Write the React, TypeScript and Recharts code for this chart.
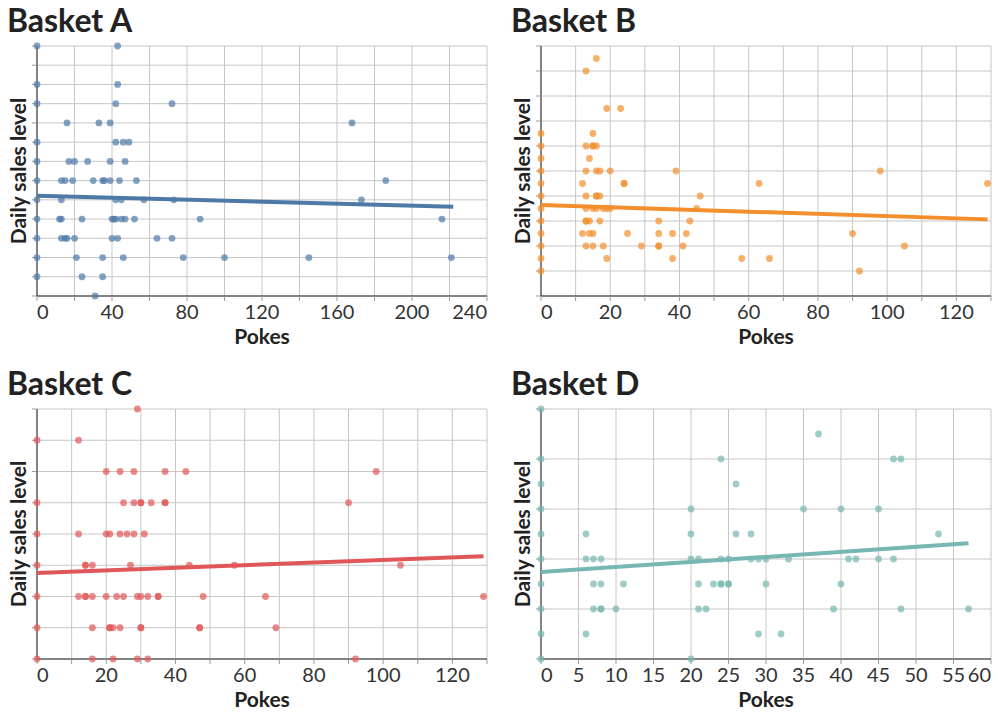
import React from 'react';
import { ScatterChart, Scatter, XAxis, YAxis, CartesianGrid } from 'recharts';

type Pt = { pokes: number; level: number };

// one row of dots per sales level
const row = (level: number, pokes: number[]): Pt[] => pokes.map((p) => ({ pokes: p, level }));

const basketA: Pt[] = [
  ...row(13, [0, 43]),
  ...row(11, [0, 43]),
  ...row(10, [0, 42, 72]),
  ...row(9, [16, 33, 39, 168]),
  ...row(8, [0, 42, 46, 49]),
  ...row(7, [0, 17, 20, 27, 39, 47]),
  ...row(6, [0, 13, 15, 19, 30, 35, 36, 39, 44, 53, 186]),
  ...row(5, [0, 13, 42, 45, 57, 73, 173]),
  ...row(4, [0, 12, 13, 24, 40, 41, 42, 45, 47, 52, 87, 216]),
  ...row(3, [0, 13, 15, 16, 20, 40, 43, 64, 72]),
  ...row(2, [0, 21, 35, 46, 78, 100, 145, 221]),
  ...row(1, [0, 24, 35]),
  ...row(0, [31]),
];

const basketB: Pt[] = [
  ...row(19, [16]),
  ...row(18, [13]),
  ...row(15, [19, 23]),
  ...row(13, [0, 15]),
  ...row(12, [0, 13, 15, 15, 16]),
  ...row(11, [0, 14]),
  ...row(10, [0, 13, 16, 17, 20, 39, 98]),
  ...row(9, [0, 12, 24, 24, 63, 129]),
  ...row(8, [0, 13, 16, 16, 17, 46]),
  ...row(7, [0, 13, 15, 16, 18, 19, 20, 45]),
  ...row(6, [0, 13, 13, 14, 17, 34, 43]),
  ...row(5, [0, 12, 14, 15, 25, 34, 38, 42, 90]),
  ...row(4, [0, 13, 15, 18, 29, 34, 34, 41, 105]),
  ...row(3, [0, 19, 38, 58, 66]),
  ...row(2, [0, 92]),
];

const basketC: Pt[] = [
  ...row(8, [29]),
  ...row(7, [0, 12]),
  ...row(6, [20, 24, 28, 37, 43, 98]),
  ...row(5, [0, 25, 28, 30, 30, 33, 37, 37, 90]),
  ...row(4, [0, 12, 20, 21, 24, 26, 28, 31]),
  ...row(3, [0, 14, 14, 16, 27, 44, 57, 105]),
  ...row(2, [0, 12, 14, 14, 16, 20, 23, 25, 29, 30, 32, 35, 35, 48, 66, 129]),
  ...row(1, [0, 16, 21, 21, 22, 24, 30, 30, 47, 47, 69]),
  ...row(0, [0, 16, 22, 29, 32, 92]),
];

const basketD: Pt[] = [
  ...row(10, [0]),
  ...row(9, [37]),
  ...row(8, [0, 24, 47, 48]),
  ...row(7, [0, 26]),
  ...row(6, [0, 20, 35, 40, 45]),
  ...row(5, [0, 6, 20, 26, 28, 53]),
  ...row(4, [0, 6, 7, 8, 20, 21, 24, 25, 28, 29, 30, 33, 41, 42, 45, 47]),
  ...row(3, [0, 7, 8, 11, 21, 23, 24, 24, 25, 25, 30, 40]),
  ...row(2, [0, 7, 8, 8, 10, 21, 22, 39, 48, 57]),
  ...row(1, [0, 6, 29, 32]),
  ...row(0, [0, 20]),
];

// fitted lines at both ends
const trendA: Pt[] = [{ pokes: 0, level: 5.21 }, { pokes: 222, level: 4.64 }];
const trendB: Pt[] = [{ pokes: 0, level: 7.28 }, { pokes: 129, level: 6.13 }];
const trendC: Pt[] = [{ pokes: 0, level: 2.75 }, { pokes: 129, level: 3.29 }];
const trendD: Pt[] = [{ pokes: 0, level: 3.48 }, { pokes: 57, level: 4.63 }];

const xTicksA = [0, 20, 40, 60, 80, 100, 120, 140, 160, 180, 200, 220, 240];
const xTicksBC = [0, 10, 20, 30, 40, 50, 60, 70, 80, 90, 100, 110, 120, 130];
const xTicksD = [0, 5, 10, 15, 20, 25, 30, 35, 40, 45, 50, 55, 60];

const yTicksA = [0, 1, 2, 3, 4, 5, 6, 7, 8, 9, 10, 11, 12, 13];
const yTicksB = [0, 2, 4, 6, 8, 10, 12, 14, 16, 18, 20];
const yTicksC = [0, 1, 2, 3, 4, 5, 6, 7, 8];
const yTicksD = [0, 2, 4, 6, 8, 10];

const FONT = 'Lato, "DejaVu Sans", sans-serif';
const INK = '#222';

const makeXTick = (ticks: number[], labelEvery: number) => (props: any) => {
  const { x, y, payload } = props;
  const v = payload.value;
  if (v % labelEvery !== 0) return <g />;
  const anchor = v === ticks[0] ? 'start' : v === ticks[ticks.length - 1] ? 'end' : 'middle';
  return (
    <text x={x} y={y} dy={16} textAnchor={anchor} fontSize={20} fill="#333" fontFamily={FONT}>
      {v}
    </text>
  );
};

// y axis shows tick marks only, no numbers
const noLabel = () => <g />;

type PanelProps = {
  title: string;
  left: number;
  top: number;
  data: Pt[];
  trend: Pt[];
  color: string;
  xTicks: number[];
  labelEvery: number;
  yTicks: number[];
};

function Panel({ title, left, top, data, trend, color, xTicks, labelEvery, yTicks }: PanelProps) {
  const dot = (p: any) => <circle cx={p.cx} cy={p.cy} r={3.4} fill={color} fillOpacity={0.7} />;
  return (
    <div style={{ position: 'absolute', left, top, width: 499, height: 360 }}>
      <ScatterChart
        width={499}
        height={360}
        margin={{ top: 46, right: 12, bottom: 0, left: 0 }}
        style={{ fontFamily: FONT }}
      >
        <CartesianGrid stroke="#c6c6c6" strokeWidth={1} />
        <XAxis
          type="number"
          dataKey="pokes"
          domain={[xTicks[0], xTicks[xTicks.length - 1]]}
          ticks={xTicks}
          interval={0}
          height={64}
          stroke={INK}
          tickLine={{ stroke: '#999' }}
          tickSize={5}
          tick={makeXTick(xTicks, labelEvery)}
          label={{ value: 'Pokes', position: 'insideBottom', offset: 16, fontSize: 21, fontWeight: 700, fill: INK }}
        />
        <YAxis
          type="number"
          dataKey="level"
          domain={[yTicks[0], yTicks[yTicks.length - 1]]}
          ticks={yTicks}
          interval={0}
          width={37}
          stroke={INK}
          tickLine={{ stroke: '#999' }}
          tickSize={5}
          tick={noLabel}
          label={{ value: 'Daily sales level', angle: -90, position: 'center', fontSize: 21, fontWeight: 700, fill: INK }}
        />
        <Scatter data={data} fill={color} shape={dot} isAnimationActive={false} />
        <Scatter
          data={trend}
          fill={color}
          line={{ stroke: color, strokeWidth: 4 }}
          shape={() => <g />}
          isAnimationActive={false}
        />
      </ScatterChart>
      <svg width={499} height={40} style={{ position: 'absolute', left: 0, top: 0, pointerEvents: 'none' }}>
        <text x={7} y={31.5} fontSize={32} fontWeight={700} fill={INK} fontFamily={FONT}>
          {title}
        </text>
      </svg>
    </div>
  );
}

export default function App() {
  return (
    <div style={{ position: 'absolute', left: 0, top: 0, width: 998, height: 716, background: '#fff' }}>
      <Panel title="Basket A" left={0} top={0} data={basketA} trend={trendA} color="#4e79a7" xTicks={xTicksA} labelEvery={40} yTicks={yTicksA} />
      <Panel title="Basket B" left={504} top={0} data={basketB} trend={trendB} color="#f28e2b" xTicks={xTicksBC} labelEvery={20} yTicks={yTicksB} />
      <Panel title="Basket C" left={0} top={363} data={basketC} trend={trendC} color="#e15759" xTicks={xTicksBC} labelEvery={20} yTicks={yTicksC} />
      <Panel title="Basket D" left={504} top={363} data={basketD} trend={trendD} color="#76b7b2" xTicks={xTicksD} labelEvery={5} yTicks={yTicksD} />
    </div>
  );
}
